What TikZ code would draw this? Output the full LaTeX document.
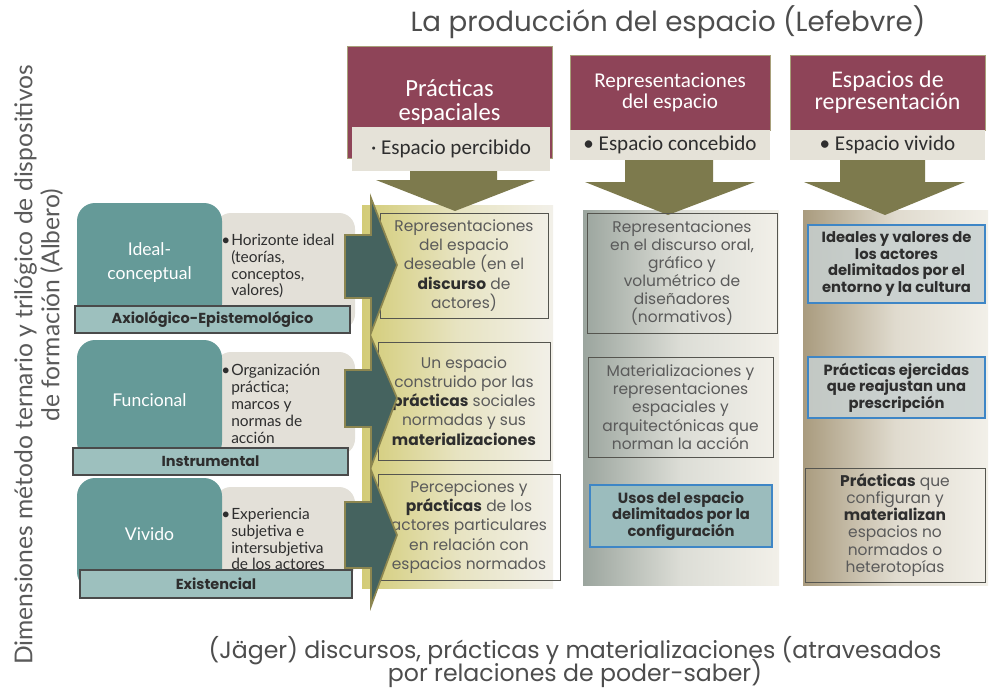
\documentclass[tikz,border=0pt]{standalone}
\usepackage{fontspec}
\setmainfont{Poppins}
\newfontfamily\calib{Carlito}
\newfontfamily\lato{Lato}
\usetikzlibrary{positioning,fit,calc}
\newcommand\snug{\lineskiplimit=-30pt\relax}

\definecolor{maroonhead}{HTML}{8E4458}
\definecolor{headline}{HTML}{A8A07A}
\definecolor{subfill}{HTML}{E5E2D8}
\definecolor{olivedown}{HTML}{7D7A4D}
\definecolor{tealdim}{HTML}{659A98}
\definecolor{tealbar}{HTML}{9DC0BE}
\definecolor{barline}{HTML}{4A4A4A}
\definecolor{beigedesc}{HTML}{E3E0D8}
\definecolor{arrowdark}{HTML}{45635F}
\definecolor{arrowline}{HTML}{8C8650}
\definecolor{colyellow}{HTML}{D3CC77}
\definecolor{colpale}{HTML}{F2F0E9}
\definecolor{colgray}{HTML}{9BA59E}
\definecolor{coltan}{HTML}{A99B7E}
\definecolor{boxline}{HTML}{55554F}
\definecolor{blueline}{HTML}{3E86C6}
\definecolor{bluefill}{HTML}{9BBCBD}
\definecolor{greyblue}{HTML}{C7D0D0}
\definecolor{textgray}{HTML}{5A5A5A}
\definecolor{textdark}{HTML}{2E2E2E}

\tikzset{
    sized/.style 2 args={minimum width=#1*0.025cm, minimum height=#2*0.025cm},
    titletext/.style={font=\fontsize{19.7}{22}\selectfont, text=textdark!85, align=center, inner sep=0pt},
    sidetext/.style={font=\lato\fontsize{17.5}{19.2}\selectfont\snug, text=textgray, align=center, inner sep=0pt},
    header/.style={rectangle, fill=maroonhead, draw=headline, line width=0.6pt, inner sep=0pt, align=center, text=white},
    subhead/.style={rectangle, fill=subfill, inner sep=0pt, align=center, text=textdark, font=\calib\fontsize{15}{17}\selectfont},
    downarrow/.style={fill=olivedown},
    colback/.style={rectangle, inner sep=0pt},
    colbox/.style={rectangle, draw=boxline, line width=0.7pt, inner sep=0pt, align=center, text=textgray, font=\fontsize{11}{13.6}\selectfont\snug},
    bluebox/.style={rectangle, draw=blueline, line width=0.8pt, inner sep=0pt, align=center, text=textdark, font=\bfseries\fontsize{10.5}{11.8}\selectfont\snug},
    dimbox/.style={rectangle, rounded corners=0.45cm, fill=tealdim, inner sep=0pt, align=center, text=white, font=\lato\fontsize{12.5}{17}\selectfont\snug},
    descbox/.style={rectangle, rounded corners=0.4cm, fill=beigedesc, inner sep=0pt},
    desctext/.style={inner sep=0pt, align=left, text=textdark, font=\lato\fontsize{11}{12}\selectfont\snug},
    dimbar/.style={rectangle, fill=tealbar, draw=barline, line width=0.8pt, inner sep=0pt, text=textdark, font=\bfseries\fontsize{10.3}{12}\selectfont},
    dimarrow/.style={fill=arrowdark, draw=arrowline, line width=1.2pt, line join=miter},
}

\begin{document}
\begin{tikzpicture}[x=0.025cm, y=-0.025cm]
    \useasboundingbox[fill=white] (0,0) rectangle (990,690);

    % titulos
    \node[titletext] (lefebvre) at (668,22) {La producción del espacio (Lefebvre)};
    \node[titletext, font=\fontsize{16.8}{16.4}\selectfont\snug] (jager) at (575,662) {(Jäger) discursos, prácticas y materializaciones (atravesados\\por relaciones de poder-saber)};
    \node[sidetext, rotate=90] (albero) at (38.5,365) {Dimensiones método ternario y trilógico de dispositivos\\\hspace*{85pt}de formación (Albero)};

    % fondos de columna
    \node[colback, fit={(362,205) (553,588)}, left color=colyellow, right color=colpale, middle color=colyellow!35!colpale] (colperc) {};
    \node[colback, fit={(583,210) (779,585)}, left color=colgray, right color=colpale, middle color=colgray!25!colpale] (colconc) {};
    \node[colback, fit={(803,210) (988,585)}, left color=coltan, right color=colpale, middle color=coltan!25!colpale] (colviv) {};

    % encabezados Lefebvre
    \node[header, sized={205}{112}, font=\calib\fontsize{17.5}{17}\selectfont\snug] (percibido) at (449.5,102) {Prácticas\\espaciales};
    \node[header, sized={200}{75}, font=\calib\fontsize{15}{15}\selectfont\snug] (concebido) at (670,92.5) {Representaciones\\del espacio};
    \node[header, sized={195}{75}, font=\calib\fontsize{17}{15.6}\selectfont\snug] (vivido) at (887.5,92.5) {Espacios de\\representación};

    \fill[downarrow] (410,150) -- (497,150) -- (497,180) -- (535,180) -- (455,211) -- (376,180) -- (410,180) -- cycle;
    \fill[downarrow] (625,155) -- (713,155) -- (713,182) -- (755,182) -- (668,215) -- (585,182) -- (625,182) -- cycle;
    \fill[downarrow] (840,155) -- (925,155) -- (925,182) -- (965,182) -- (885,215) -- (804,182) -- (840,182) -- cycle;

    \node[subhead, sized={198}{44}] (percsub) at (451,149) {· Espacio percibido};
    \node[subhead, sized={200}{30}] (concsub) at (670,145) {\textbullet\ Espacio concebido};
    \node[subhead, sized={195}{30}] (vivsub) at (887.5,145) {\textbullet\ Espacio vivido};

    % columna 1
    \node[colbox, sized={168}{105}] (deseable) at (464,265.5) {Representaciones\\del espacio\\deseable (en el\\\textbf{\color{textdark}discurso} de\\actores)};
    \node[colbox, sized={172}{118}] (construido) at (464,401) {Un espacio\\construido por las\\\textbf{\color{textdark}prácticas} sociales\\normadas y sus\\\textbf{\color{textdark}materializaciones}};
    \node[colbox, sized={182}{106}] (percepciones) at (469,527) {Percepciones y\\\textbf{\color{textdark}prácticas} de los\\actores particulares\\en relación con\\espacios normados};

    % columna 2
    \node[colbox, sized={190}{120}, font=\fontsize{11}{12.8}\selectfont\snug] (discurso) at (682,273) {Representaciones\\en el discurso oral,\\gráfico y\\volumétrico de\\diseñadores\\(normativos)};
    \node[colbox, sized={185}{100}, font=\fontsize{11}{13}\selectfont\snug] (normas) at (680.5,407) {Materializaciones y\\representaciones\\espaciales y\\arquitectónicas que\\norman la acción};
    \node[bluebox, sized={182}{62}, fill=bluefill] (usos) at (681,516) {Usos del espacio\\delimitados por la\\configuración};

    % columna 3
    \node[bluebox, sized={177}{78}, fill=greyblue, fill opacity=0.85, text opacity=1] (ideales) at (896.5,264) {Ideales y valores de\\los actores\\delimitados por el\\entorno y la cultura};
    \node[bluebox, sized={177}{61}, fill=greyblue, fill opacity=0.85, text opacity=1] (ejercidas) at (896.5,387.5) {Prácticas ejercidas\\que reajustan una\\prescripción};
    \node[colbox, sized={180}{114}, font=\fontsize{11}{12.2}\selectfont\snug] (heterotopias) at (895,525) {\textbf{\color{textdark}Prácticas} que\\configuran y\\\textbf{\color{textdark}materializan}\\espacios no\\normados o\\heterotopías};

    % dimensiones Albero
    \node[descbox, sized={140}{117}] (horizonte) at (285,271.5) {};
    \node[desctext, anchor=west] (horizontetxt) at (231,266) {\llap{\textbullet\hspace{0.6pt}}Horizonte ideal\\(teorías,\\conceptos,\\valores)};
    \node[dimbox, sized={145}{119}] (ideal) at (149.5,262.5) {Ideal-\\conceptual};
    \node[dimbar, sized={275}{27}] (axio) at (212.5,319.5) {Axiológico-Epistemológico};

    \node[descbox, sized={140}{103}] (organiza) at (285,403.5) {};
    \node[desctext, anchor=west] (organizatxt) at (231,404) {\llap{\textbullet\hspace{0.6pt}}Organización\\práctica;\\marcos y\\normas de\\acción};
    \node[dimbox, sized={145}{120}] (funcional) at (149.5,400) {Funcional};
    \node[dimbar, sized={275}{27}] (instrum) at (210.5,461.5) {Instrumental};

    \node[descbox, sized={140}{93}] (experiencia) at (285,533.5) {};
    \node[desctext, anchor=west] (experienciatxt) at (231,539) {\llap{\textbullet\hspace{0.6pt}}Experiencia\\subjetiva e\\intersubjetiva\\de los actores};
    \node[dimbox, sized={145}{112}] (vividodim) at (149.5,534) {Vivido};
    \node[dimbar, sized={272}{28}] (existencial) at (216,584) {Existencial};

    % flechas hacia las practicas
    \foreach \ht/\st/\sb/\hb/\tp in {198/235/298/333/265, 337/370/427/467/398, 470/502/568/606/535}
        \draw[dimarrow] (345,\st) -- (371,\st) -- (371,\ht) -- (397,\tp) -- (371,\hb) -- (371,\sb) -- (345,\sb) -- cycle;
\end{tikzpicture}
\end{document}
